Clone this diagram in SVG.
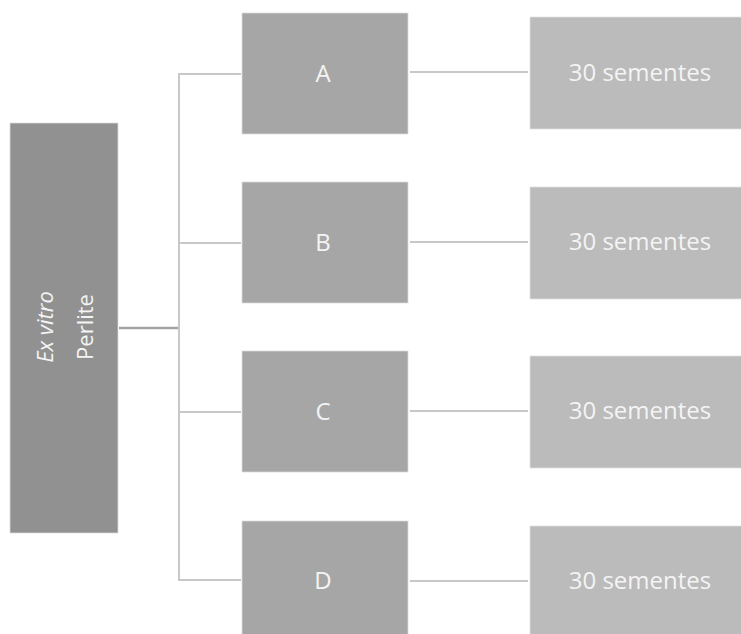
<svg xmlns="http://www.w3.org/2000/svg" width="741" height="634" viewBox="0 0 741 634">
  <style>
    .root { fill: #919191; stroke: #dcdcdc; stroke-width: 0.75; }
    .mid { fill: #a6a6a6; stroke: #dcdcdc; stroke-width: 0.75; }
    .leaf { fill: #bbbbbb; stroke: #e2e2e2; stroke-width: 0.75; }
    .lbl { font-family: "Open Sans", "DejaVu Sans", sans-serif; font-size: 24px; fill: #f4f4f4; text-anchor: middle; }
    .side { font-size: 22px; }
    .wire { stroke: #c8c8c8; stroke-width: 2; fill: none; }
    .trunk { stroke: #a4a4a4; stroke-width: 2.5; fill: none; }
  </style>
  <rect width="741" height="634" fill="#ffffff"/>

  <g id="connectors">
    <line class="trunk" x1="119" y1="328" x2="179" y2="328"/>
    <polyline class="wire" points="241,74 179,74 179,580 241,580"/>
    <line class="wire" x1="179" y1="243" x2="241" y2="243"/>
    <line class="wire" x1="179" y1="412" x2="241" y2="412"/>
    <line class="wire" x1="410" y1="72" x2="528" y2="72"/>
    <line class="wire" x1="410" y1="242" x2="528" y2="242"/>
    <line class="wire" x1="410" y1="411" x2="528" y2="411"/>
    <line class="wire" x1="410" y1="581" x2="528" y2="581"/>
  </g>

  <g id="root">
    <rect class="root" x="10" y="123" width="108" height="410"/>
    <text class="lbl side" transform="translate(53,327) rotate(-90)" font-style="italic">Ex vitro</text>
    <text class="lbl side" transform="translate(93,327) rotate(-90)">Perlite</text>
  </g>

  <g id="node-a">
    <rect class="mid" x="242" y="13" width="166" height="121"/>
    <text class="lbl" x="323" y="82">A</text>
  </g>
  <g id="node-b">
    <rect class="mid" x="242" y="182" width="166" height="121"/>
    <text class="lbl" x="323" y="251">B</text>
  </g>
  <g id="node-c">
    <rect class="mid" x="242" y="351" width="166" height="121"/>
    <text class="lbl" x="323" y="420">C</text>
  </g>
  <g id="node-d">
    <rect class="mid" x="242" y="521" width="166" height="121"/>
    <text class="lbl" x="323" y="589">D</text>
  </g>

  <g id="seeds-a">
    <rect class="leaf" x="530" y="17" width="212" height="112"/>
    <text class="lbl" x="640" y="81">30 sementes</text>
  </g>
  <g id="seeds-b">
    <rect class="leaf" x="530" y="187" width="212" height="112"/>
    <text class="lbl" x="640" y="250">30 sementes</text>
  </g>
  <g id="seeds-c">
    <rect class="leaf" x="530" y="356" width="212" height="112"/>
    <text class="lbl" x="640" y="419">30 sementes</text>
  </g>
  <g id="seeds-d">
    <rect class="leaf" x="530" y="526" width="212" height="112"/>
    <text class="lbl" x="640" y="589">30 sementes</text>
  </g>
</svg>
